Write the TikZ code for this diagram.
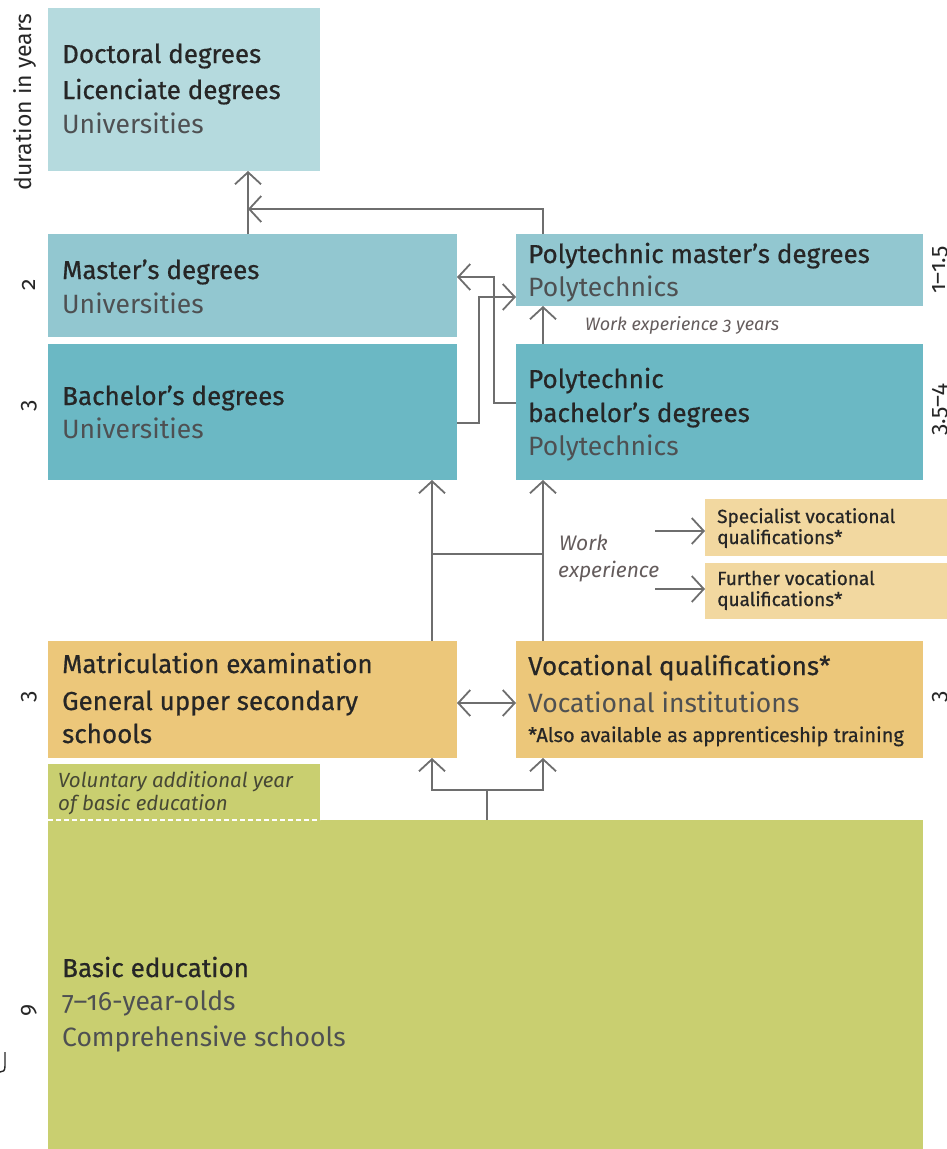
\documentclass[tikz,border=0pt]{standalone}
\usepackage{fontspec}
\setmainfont{Fira Sans}[Numbers=OldStyle]
\newfontfamily\titlefont{Fira Sans}[Numbers=OldStyle, FakeBold=0.6]
\usetikzlibrary{arrows.meta}
\definecolor{cDoc}{RGB}{181,218,222}
\definecolor{cMas}{RGB}{146,199,208}
\definecolor{cBac}{RGB}{107,184,196}
\definecolor{cOra}{RGB}{236,199,122}
\definecolor{cOraL}{RGB}{242,216,160}
\definecolor{cGre}{RGB}{201,207,112}
\definecolor{cTxt}{RGB}{38,38,38}
\definecolor{cSub}{RGB}{78,80,82}
\definecolor{cIt}{RGB}{100,92,92}
\definecolor{cLine}{RGB}{110,110,110}
\begin{document}
\begin{tikzpicture}[x=1pt,y=-1pt,
  box/.style={draw=none, inner sep=0, outer sep=0, anchor=north west},
  big/.style={anchor=base west, inner sep=0, text=cTxt, font=\titlefont\fontsize{26}{30}\selectfont},
  sub/.style={anchor=base west, inner sep=0, text=cSub, font=\fontsize{26.5}{30}\selectfont},
  small/.style={anchor=base west, inner sep=0, text=cTxt, font=\titlefont\fontsize{19}{22}\selectfont},
  itl/.style={anchor=base west, inner sep=0, text=cIt, font=\itshape\fontsize{21}{24}\selectfont},
  side/.style={rotate=90, inner sep=0, text=cTxt, font=\fontsize{23}{26}\selectfont},
  ln/.style={draw=cLine, line width=1.8pt},
  arr/.style={ln, -{Straight Barb[length=12pt,width=26pt]}},
  darr/.style={ln, {Straight Barb[length=12pt,width=26pt]}-{Straight Barb[length=12pt,width=26pt]}}]
\path[use as bounding box] (0,0) rectangle (947,1149);

% boxes
\node[box, fill=cDoc, minimum width=272pt, minimum height=163pt] (doc) at (48,8) {};
\node[box, fill=cMas, minimum width=409pt, minimum height=103pt] (mas) at (48,234) {};
\node[box, fill=cBac, minimum width=409pt, minimum height=136pt] (bac) at (48,344) {};
\node[box, fill=cMas, minimum width=407pt, minimum height=72pt] (pmas) at (516,234) {};
\node[box, fill=cBac, minimum width=407pt, minimum height=136pt] (pbac) at (516,344) {};
\node[box, fill=cOraL, minimum width=243pt, minimum height=57pt] (spec) at (705,499) {};
\node[box, fill=cOraL, minimum width=243pt, minimum height=56pt] (furt) at (705,563) {};
\node[box, fill=cOra, minimum width=409pt, minimum height=117pt] (mat) at (48,641) {};
\node[box, fill=cOra, minimum width=407pt, minimum height=117pt] (voc) at (516,641) {};
\node[box, fill=cGre, minimum width=272pt, minimum height=56pt] (vol) at (48,764) {};
\node[box, fill=cGre, minimum width=875pt, minimum height=330pt] (bas) at (48,820) {};
\draw[white, line width=1.2pt, dash pattern=on 5pt off 3pt] (vol.south west) -- (vol.south east);

% texts
\node[big] (t1) at (62,63) {Doctoral degrees};
\node[big] (t2) at (62,99) {Licenciate degrees};
\node[sub] (t3) at (62,133) {Universities};
\node[big] (t4) at (62,279) {Master’s degrees};
\node[sub] (t5) at (62,313) {Universities};
\node[big] (t6) at (62,405) {Bachelor’s degrees};
\node[sub] (t7) at (62,438) {Universities};
\node[big] (t8) at (528,263) {Polytechnic master’s degrees};
\node[sub] (t9) at (528,296) {Polytechnics};
\node[big] (t10) at (528,388) {Polytechnic};
\node[big] (t11) at (528,422) {bachelor’s degrees};
\node[sub] (t12) at (528,455) {Polytechnics};
\node[small] (t13) at (717,523) {Specialist vocational};
\node[small] (t14) at (717,544) {qualifications*};
\node[small] (t15) at (717,585) {Further vocational};
\node[small] (t16) at (717,606) {qualifications*};
\node[itl] (t17) at (559,550) {Work};
\node[itl] (t18) at (558,577) {experience};
\node[itl, font=\itshape\fontsize{18}{21}\selectfont] (t19) at (585,330) {Work experience 3 years};
\node[big] (t20) at (62,673) {Matriculation examination};
\node[big] (t21) at (62,710) {General upper secondary};
\node[big] (t22) at (62,743) {schools};
\node[big] (t23) at (528,675) {Vocational qualifications*};
\node[sub] (t24) at (528,712) {Vocational institutions};
\node[small, font=\titlefont\fontsize{20}{24}\selectfont] (t25) at (528,742) {*Also available as apprenticeship training};
\node[itl, text=cTxt!80!cGre, font=\itshape\fontsize{20.5}{24}\selectfont] (t26) at (58,787) {Voluntary additional year};
\node[itl, text=cTxt!80!cGre, font=\itshape\fontsize{20.5}{24}\selectfont] (t27) at (58,810) {of basic education};
\node[big] (t28) at (62,977) {Basic education};
\node[sub] (t29) at (62,1010) {7–16-year-olds};
\node[sub] (t30) at (62,1046) {Comprehensive schools};

% side labels
\node[side] (s0) at (25,102) {duration in years};
\node[side] (s1) at (29,285) {2};
\node[side] (s2) at (29,406) {3};
\node[side] (s3) at (29,697) {3};
\node[side] (s4) at (29,1010) {9};
\node[side] (s5) at (940,270) {1–1.5};
\node[side] (s6) at (940,410) {3.5–4};
\node[side] (s7) at (940,697) {3};
\draw[cTxt, line width=1.4pt] (5,1052) -- (5,1066) .. controls (5,1071) and (3,1072) .. (0,1072);

% connectors
\coordinate (j1) at (248,209);
\draw[arr] ([xshift=200pt]mas.north west) -- ([xshift=200pt]doc.south west);
\draw[arr] ([xshift=27pt]pmas.north west) |- (j1);
\draw[arr] ([yshift=-59pt]pbac.north west) -- ++(-22,0) |- ([yshift=-43pt]mas.north east);
\draw[arr] ([yshift=-79pt]bac.north east) -- ++(22,0) |- ([yshift=-63pt]pmas.north west);
\draw[arr] ([xshift=27pt]pbac.north west) -- ([xshift=27pt]pmas.south west);
\draw[arr] ([xshift=-25pt]mat.north east) -- ([xshift=-25pt]bac.south east);
\draw[arr] ([xshift=27pt]voc.north west) -- ([xshift=27pt]pbac.south west);
\coordinate (c1) at (432,554);
\coordinate (c2) at (543,554);
\draw[ln] (c1) -- (c2);
\coordinate (w1) at (655,531);
\coordinate (w2) at (655,589);
\draw[arr] (w1) -- (spec.west |- w1);
\draw[arr] (w2) -- (furt.west |- w2);
\draw[darr] (mat.east |- 0,703) -- (voc.west |- 0,703);
\coordinate (b1) at (487,790);
\draw[ln] ([xshift=439pt]bas.north west) -- (b1);
\draw[arr] (b1) -| ([xshift=-25pt]mat.south east);
\draw[arr] (b1) -| ([xshift=27pt]voc.south west);
\end{tikzpicture}
\end{document}
